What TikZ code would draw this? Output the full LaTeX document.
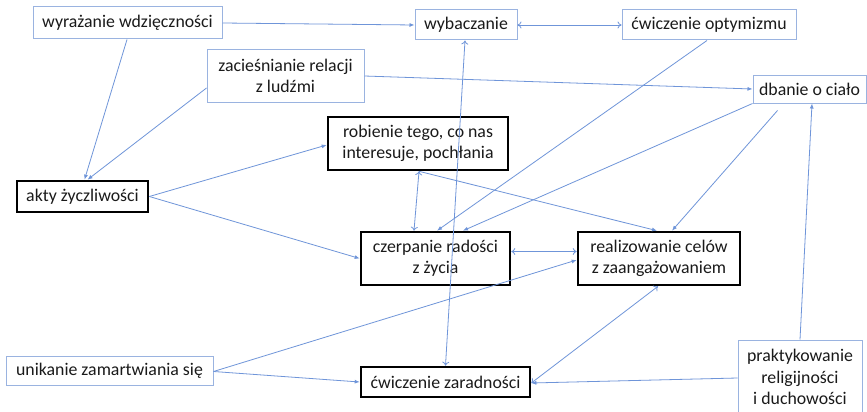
\documentclass[tikz,border=0pt]{standalone}
\usepackage{fontspec}
\setmainfont{Carlito}
\usetikzlibrary{arrows.meta}
\definecolor{edgeblue}{HTML}{6F95D9}
\definecolor{boxblue}{HTML}{9AB3E0}
\definecolor{txt}{HTML}{1A1A1A}
\begin{document}
\begin{tikzpicture}[x=1pt,y=-1pt,
  base/.style={rectangle,inner sep=0pt,align=center,text=txt,
    font=\fontsize{17.8}{21.5}\selectfont},
  thinbox/.style={base,draw=boxblue,line width=1pt},
  thickbox/.style={base,draw=black,line width=2.6pt},
  conn/.style={draw=edgeblue,line width=0.8pt,-{Latex[length=5pt,width=4pt]}},
  both/.style={draw=edgeblue,line width=0.8pt,{To[length=4pt,width=7pt]}-{To[length=4pt,width=7pt]}},
  line/.style={draw=edgeblue,line width=0.8pt}
]
\useasboundingbox[fill=white] (0,0) rectangle (867,412);

\node[thinbox,minimum width=189pt,minimum height=32pt] (wyr) at (127.5,23) {wyrażanie wdzięczności};
\node[thinbox,minimum width=102pt,minimum height=30pt] (wyb) at (466,25) {wybaczanie};
\node[thinbox,minimum width=174pt,minimum height=30pt] (opt) at (709,25) {ćwiczenie optymizmu};
\node[thinbox,minimum width=157pt,minimum height=52pt] (zac) at (285.5,76) {zacieśnianie relacji\\z ludźmi};
\node[thinbox,minimum width=113pt,minimum height=28pt] (dba) at (809.5,89) {dbanie o ciało};
\node[thickbox,minimum width=180pt,minimum height=53pt] (rob) at (418,143.5) {robienie tego, co nas\\interesuje, pochłania};
\node[thickbox,minimum width=131pt,minimum height=31pt] (akt) at (82.5,196.5) {akty życzliwości};
\node[thickbox,minimum width=149pt,minimum height=53pt] (cze) at (435.5,258.5) {czerpanie radości\\z życia};
\node[thickbox,minimum width=162pt,minimum height=53pt] (rea) at (659,258.5) {realizowanie celów\\z zaangażowaniem};
\node[thinbox,minimum width=207pt,minimum height=29pt] (uni) at (109.5,370.5) {unikanie zamartwiania się};
\node[thickbox,minimum width=169pt,minimum height=30pt] (zar) at (445.5,382) {ćwiczenie zaradności};
\node[thinbox,minimum width=124pt,minimum height=74pt,text depth=0pt] (pra) at (800,377) {praktykowanie\\religijności\\i duchowości};

% connectors
\draw[conn] (wyr.east) -- (wyb.west);
\draw[conn] ([xshift=-0.5pt]wyr.south) -- ([xshift=2pt]akt.north);
\draw[conn] ([yshift=-12pt]zac.west) -- ([xshift=5pt]akt.north);
\draw[conn] (zac.east) -- (dba.west);
\draw[both] (wyb.east) -- (opt.west);
\draw[both] ([xshift=-1pt]wyb.south) -- (zar.north);
\draw[conn] ([xshift=-2pt]opt.south) -- ([xshift=1.5pt]cze.north);
\draw[conn] (dba.south west) -- ([xshift=27.5pt]cze.north);
\draw[conn] ([xshift=-32pt,yshift=-7pt]dba.south) -- ([xshift=13pt]rea.north);
\draw[conn] (pra.north) -- ([xshift=2.5pt]dba.south);
\draw[conn] ([yshift=-1pt]pra.west) -- ([yshift=-1pt]zar.east);
\draw[both] ([xshift=-1pt]rea.south) -- ([yshift=-1pt]zar.east);
\draw[both] ([yshift=7pt]cze.east) -- ([yshift=7pt]rea.west);
\draw[conn] ([yshift=-1pt]uni.east) -- ([yshift=-1.5pt]rea.west);
\draw[conn] ([yshift=-1pt]uni.east) -- (zar.west);
\draw[conn] (akt.east) -- ([yshift=-1.5pt]rob.west);
\draw[conn] (akt.east) -- (cze.west);
\draw[both] ([xshift=1pt]rob.south) -- ([xshift=-21.5pt]cze.north);
\draw[conn] ([xshift=1pt]rob.south) -- ([xshift=-2pt]rea.north);
\end{tikzpicture}
\end{document}
